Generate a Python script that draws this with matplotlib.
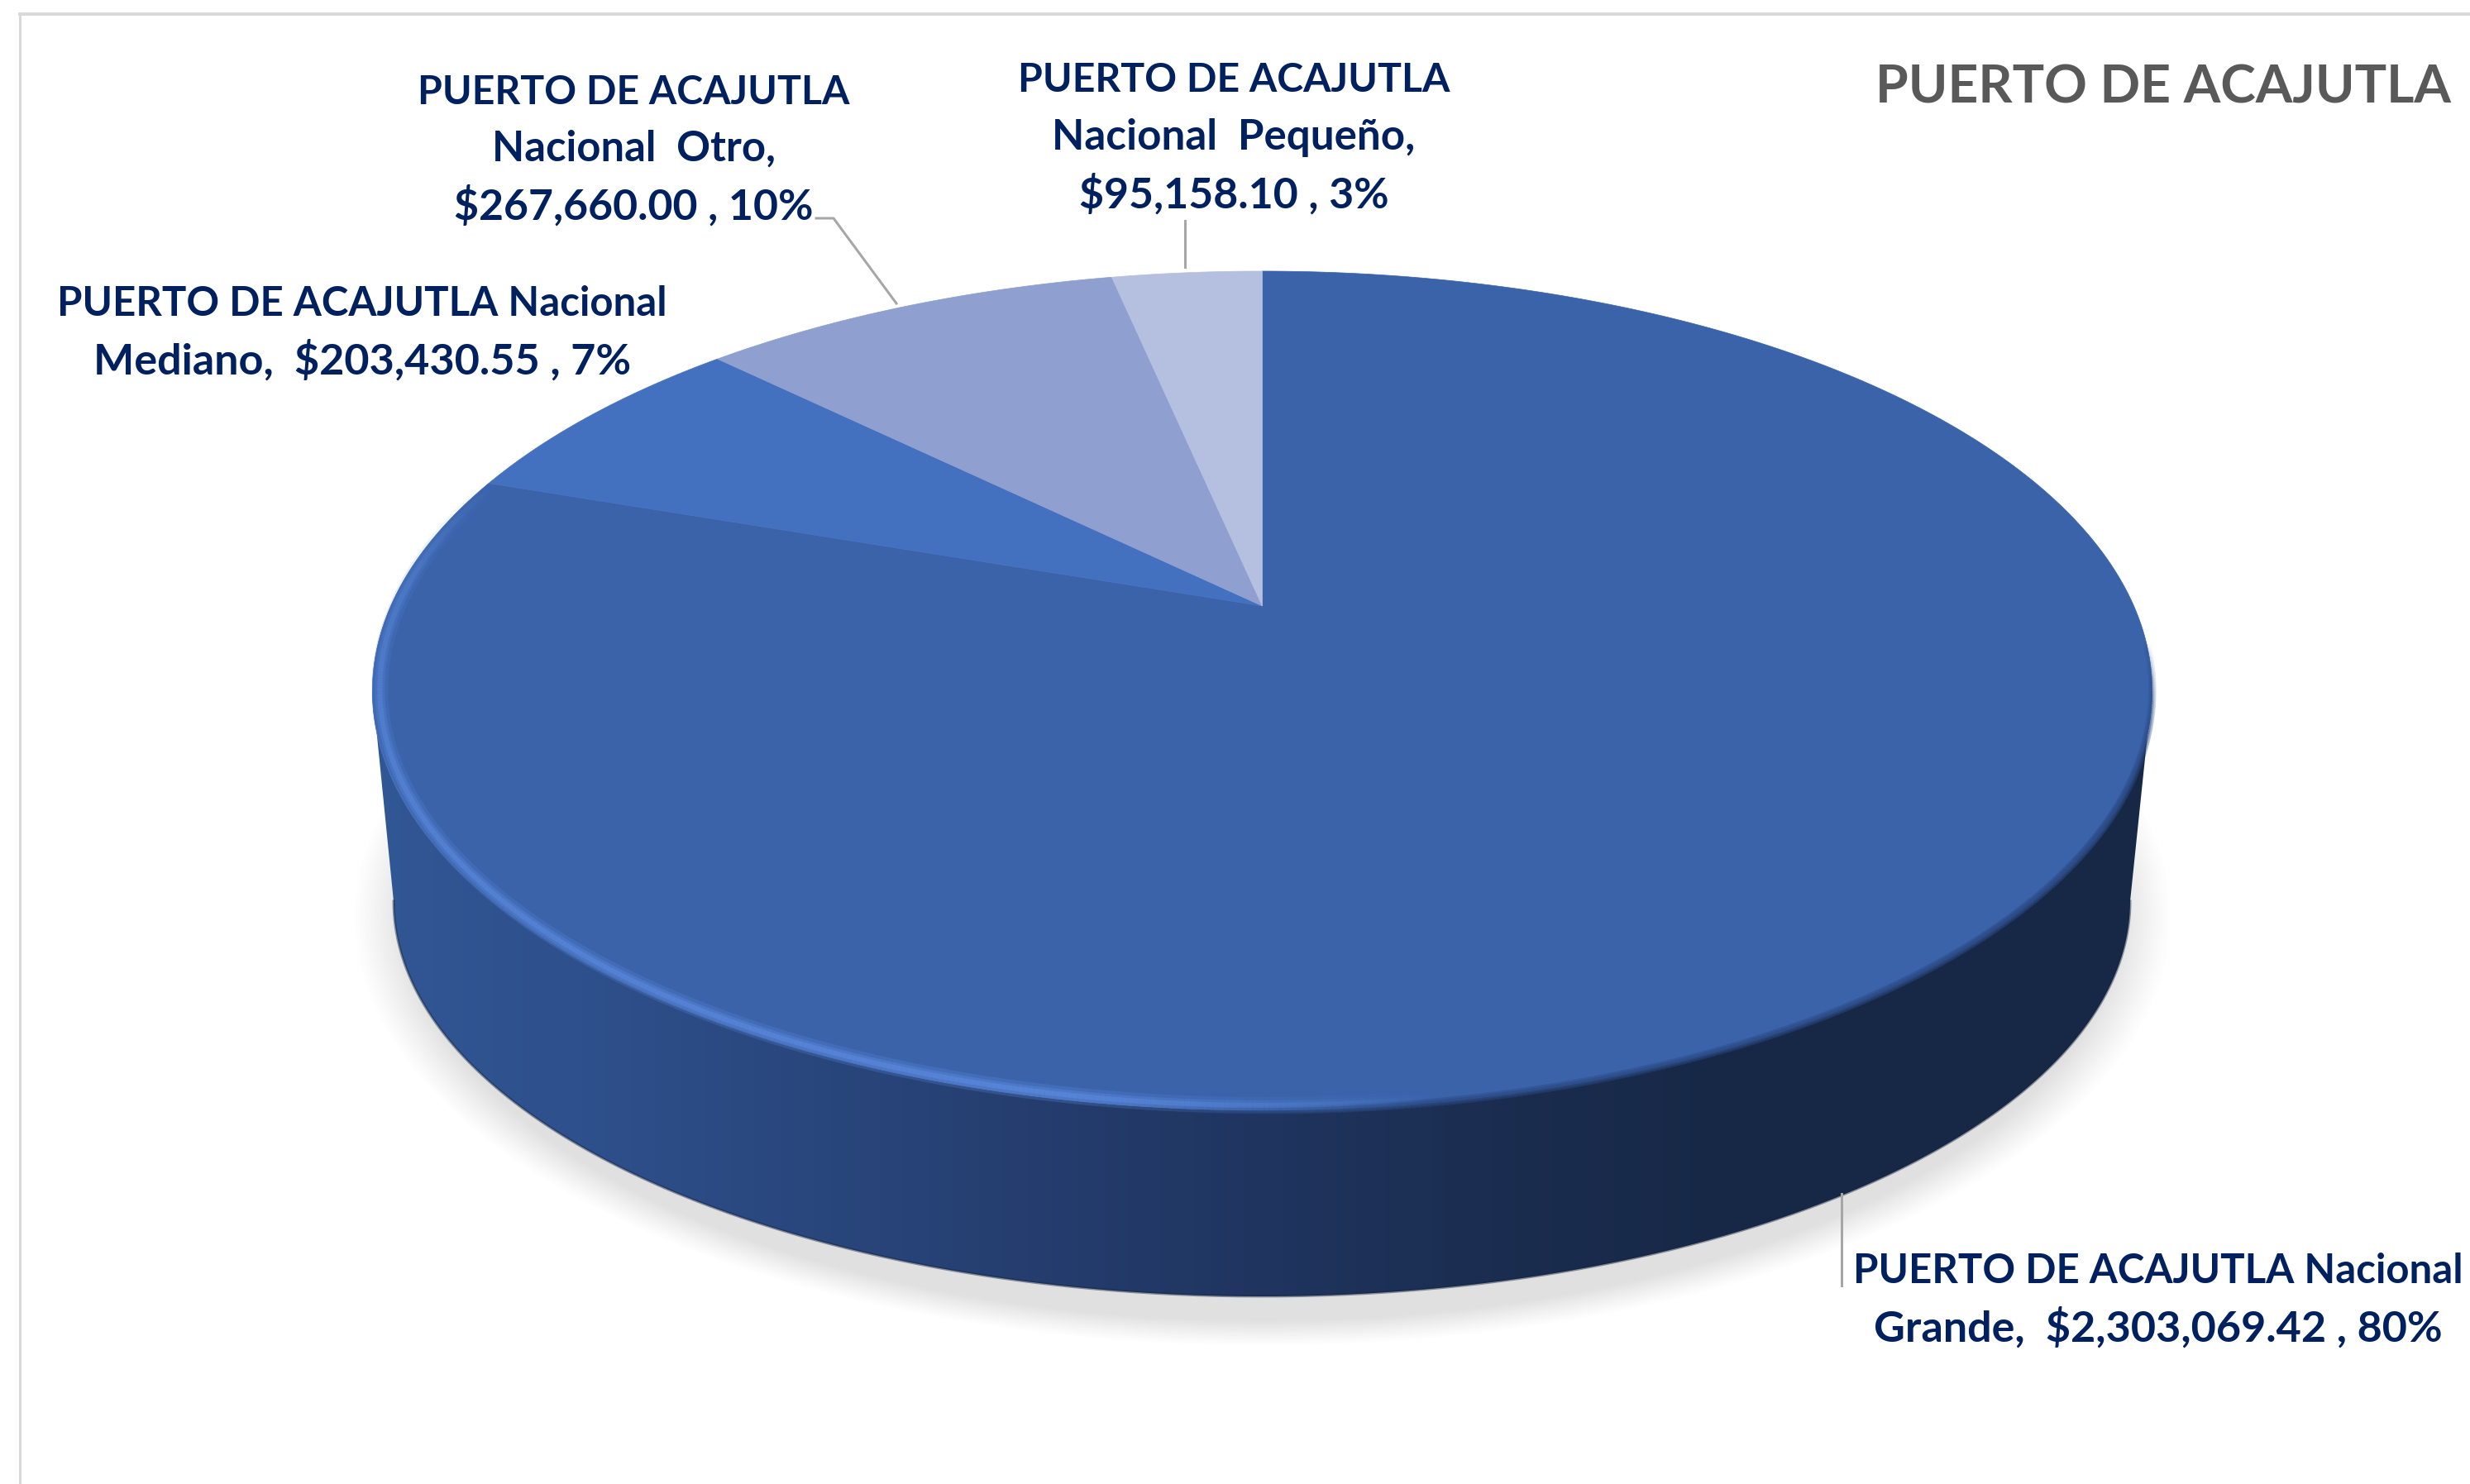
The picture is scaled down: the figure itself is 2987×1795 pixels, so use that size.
import numpy as np
from matplotlib import pyplot as plt
from matplotlib.collections import LineCollection
from matplotlib.patches import Polygon

names = ["PUERTO DE ACAJUTLA Nacional Grande", "PUERTO DE ACAJUTLA Nacional Mediano",
         "PUERTO DE ACAJUTLA Nacional Otro", "PUERTO DE ACAJUTLA Nacional Pequeño"]
values = [2303069.42, 203430.55, 267660.00, 95158.10]
pct_labels = ["80%", "7%", "10%", "3%"]
colors = ["#3a63aa", "#4470c0", "#8e9fd0", "#b5bfe0"]
title = "PUERTO DE ACAJUTLA"

# label lines as they wrap in the picture
label_lines = [
    ["PUERTO DE ACAJUTLA Nacional", "Grande,  $2,303,069.42 , 80%"],
    ["PUERTO DE ACAJUTLA Nacional", "Mediano,  $203,430.55 , 7%"],
    ["PUERTO DE ACAJUTLA", "Nacional  Otro,", "$267,660.00 , 10%"],
    ["PUERTO DE ACAJUTLA", "Nacional  Pequeño,", "$95,158.10 , 3%"],
]
label_x = [2610, 438, 766, 1492]
label_y = [[1538, 1606], [368, 436], [112, 180, 249], [97, 167, 235]]
label_size = [[35.4, 37.5], [35.4, 37.5], [34.7, 36.5, 37.3], [34.7, 36.8, 37.3]]

W, H = 2987, 1795
plt.rcParams['font.family'] = ['Lato', 'DejaVu Sans']
fig = plt.figure(figsize=(W / 100, H / 100), dpi=100)
ax = fig.add_axes([0, 0, 1, 1])
ax.axis('off')


def px(n):
    return n * 72 / 100


# perspective of the pie top: circle -> ellipse, centre goes to the apex
cx, cy = 1526.5, 733
a, b, k = 1054, 486.8, 0.2019


def project(theta, r=1.0):
    xx = r * np.sin(theta)
    yy = r * np.cos(theta)
    w = 1 + k * yy
    return cx + a * xx / w, cy - b * yy / w


# shadow
yy, xx = np.mgrid[800:1795:2, 300:2800:2]
rad = np.sqrt(((xx - 1526) / 1100) ** 2 + ((yy - 1108) / 520) ** 2)
shadow = np.zeros(rad.shape + (4,))
shadow[..., :3] = 0.45
shadow[..., 3] = np.clip((1.0 - rad) / 0.06, 0, 1) ** 1.1 * 0.22
ax.imshow(shadow, extent=(300, 2800, 1795, 800), aspect='auto', interpolation='bilinear', zorder=1)

# side of the pie, gradient left to right
t = np.linspace(np.pi, 2 * np.pi, 400)
bx = 1526 + 1050 * np.cos(t)
by = 1090 - 478 * np.sin(t)
tx, ty = project(np.radians(np.linspace(101.5, 258.5, 200)))
rim = Polygon(np.vstack([np.column_stack([bx, by]), np.column_stack([tx, ty])]), closed=True,
              transform=ax.transData, fc='none', ec='none')
ax.add_patch(rim)
stops_x = [450, 700, 1000, 1300, 1550, 1800, 2100, 2650]
stops_r = [49, 46, 41, 36, 31, 27, 23, 23]
stops_g = [87, 80, 70, 60, 52, 45, 40, 40]
stops_b = [148, 140, 124, 108, 94, 80, 70, 70]
grad_x = np.arange(440, 2660, 4)
grad = np.dstack([np.interp(grad_x, stops_x, stops_r), np.interp(grad_x, stops_x, stops_g),
                  np.interp(grad_x, stops_x, stops_b)]) / 255
im = ax.imshow(grad, extent=(440, 2660, 1600, 800), aspect='auto', zorder=2)
im.set_clip_path(rim)
ax.plot(bx, by, color='#14233f', lw=px(3), alpha=0.45, zorder=2.5)

# top face
edges = np.radians(np.cumsum([0] + values) / sum(values) * 360)
for i in range(len(values)):
    th = np.linspace(edges[i], edges[i + 1], 400)
    fx, fy = project(th)
    ax.fill(np.r_[cx, fx], np.r_[cy, fy], color=colors[i], lw=0.5, zorder=3)

# soft edge on the dark side
th = np.radians(np.linspace(95, 186, 300))
sx, sy = project(th, 1.0)
seg = np.column_stack([sx, sy])
segs = np.stack([seg[:-1], seg[1:]], axis=1)
fade = np.interp(np.degrees(th[:-1]), [95, 120, 175, 186], [0, 0.55, 0.55, 0])
for width, mult in [(10, 0.5), (5, 0.8)]:
    rgba = np.zeros((len(fade), 4))
    rgba[:, :3] = np.array([0x2c, 0x4c, 0x86]) / 255
    rgba[:, 3] = fade * mult
    ax.add_collection(LineCollection(segs, colors=rgba, linewidths=px(width), zorder=3.5, capstyle='round'))

# bright bevel on the front-left edge
th = np.radians(np.linspace(170, 290, 400))
for width, mult, r in [(20, 0.28, 0.992), (12, 0.45, 0.992), (6, 0.7, 0.992)]:
    sx, sy = project(th, r)
    seg = np.column_stack([sx, sy])
    segs = np.stack([seg[:-1], seg[1:]], axis=1)
    fade = np.interp(np.degrees(th[:-1]), [170, 190, 245, 275, 290], [0, 1, 0.8, 0.45, 0])
    rgba = np.zeros((len(fade), 4))
    rgba[:, :3] = np.array([0x5a, 0x88, 0xdc]) / 255
    rgba[:, 3] = fade * mult
    ax.add_collection(LineCollection(segs, colors=rgba, linewidths=px(width), zorder=3.6))

# chart frame, top and left only
ax.plot([24, 24], [H, 17], color='#d9d9d9', lw=px(3), zorder=0)
ax.plot([24, W], [17, 17], color='#d9d9d9', lw=px(4), zorder=0)

# leader lines
leader_color = '#a6a6a6'
ax.plot([2227, 2227], [1444, 1555], color=leader_color, lw=px(3), zorder=4)
ax.plot([987, 1008, 1084], [264, 264, 367], color=leader_color, lw=px(3), zorder=4)
ax.plot([1433, 1433], [267, 323], color=leader_color, lw=px(3), zorder=4)

# labels
for lines, lx, ly, sizes in zip(label_lines, label_x, label_y, label_size):
    for line, y, size in zip(lines, ly, sizes):
        ax.text(lx, y, line, color='#002060', fontsize=size, fontweight='bold',
                ha='center', va='center', zorder=5)
ax.text(2964, 106, title, color='#595959', fontsize=46.2, fontweight='bold',
        ha='right', va='center', zorder=5)

ax.set_xlim(0, W)
ax.set_ylim(H, 0)
fig.savefig('out.png', dpi=100, facecolor='white')
